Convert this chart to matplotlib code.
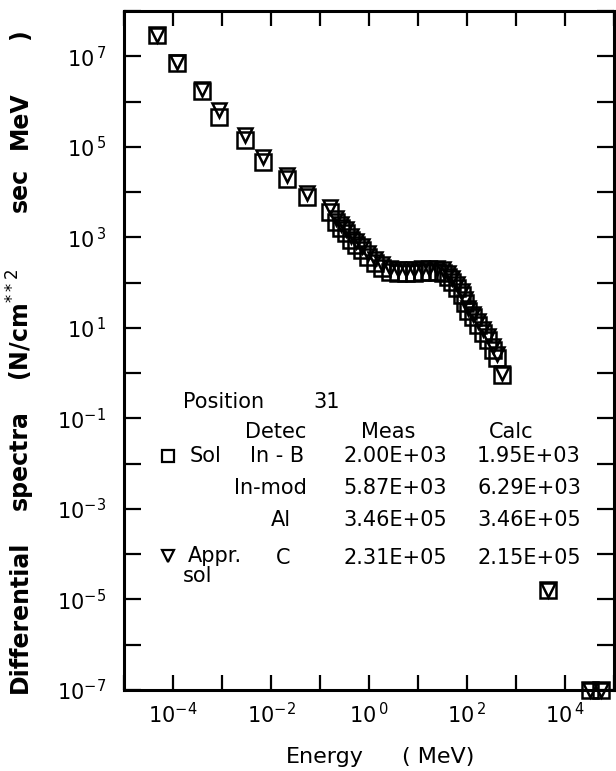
import numpy as np
import matplotlib
matplotlib.use("Agg")
import matplotlib.pyplot as plt

plt.rcParams["font.family"] = ["DejaVu Sans"]
plt.rcParams["mathtext.fontset"] = "dejavusans"

# ── data ─────────────────────────────────────────────────────────────────────
energy = [4.7e-5, 1.2e-4, 3.9e-4, 8.7e-4, 2.9e-3, 6.9e-3, 2.1e-2, 5.4e-2,
          0.16, 0.21, 0.27, 0.34, 0.43, 0.54, 0.72, 0.95, 1.3, 1.85, 2.7,
          3.9, 5.7, 8.3, 12, 17, 24, 32, 41, 49, 63, 80, 91, 105, 132, 166,
          214, 270, 340, 410, 510, 4.5e3, 3.2e4, 5.4e4]
sol = [2.95e7, 7.1e6, 1.7e6, 4.6e5, 1.4e5, 4.7e4, 1.9e4, 7.8e3,
       3.6e3, 2.2e3, 1.6e3, 1.26e3, 880, 680, 520, 370, 270, 210, 170,
       165, 165, 165, 170, 170, 170, 165, 135, 105, 77, 54, 36, 23, 17, 11.7,
       7.8, 5.5, 3.3, 2.2, 0.91, 1.66e-5, 1e-7, 1e-7]
appr = [2.95e7, 7.4e6, 1.9e6, 6.5e5, 1.8e5, 6.0e4, 2.4e4, 9.5e3,
        4.7e3, 2.7e3, 2.0e3, 1.55e3, 1070, 830, 650, 450, 340, 260, 210,
        200, 200, 200, 210, 210, 210, 200, 165, 129, 94, 66, 44, 28, 20, 14.4,
        9.5, 6.7, 4.0, 2.7, 1.0, 1.66e-5, 1e-7, 1e-7]

detectors = ["In - B", "In-mod", "Al", "C"]
meas = ["2.00E+03", "5.87E+03", "3.46E+05", "2.31E+05"]
calc = ["1.95E+03", "6.29E+03", "3.46E+05", "2.15E+05"]

x_exps = np.arange(-5, 6)
y_exps = np.arange(-7, 9)
x_label_exps = [-4, -2, 0, 2, 4]
y_label_exps = [-7, -5, -3, -1, 1, 3, 5, 7]

W, H = 616, 771
fig = plt.figure(figsize=(W / 100, H / 100), dpi=100)
ax = fig.add_axes([124 / W, 1 - 690 / H, 490 / W, 679 / H])

def px(x, y):
    # pixel position -> figure fraction
    return x / W, 1 - y / H

# ── markers ──────────────────────────────────────────────────────────────────
ax.plot(energy, sol, ls="none", marker="s", ms=11, mfc="none", mec="black",
        mew=1.8, clip_on=False, zorder=5)
ax.plot(energy, appr, ls="none", marker="v", ms=9.5, mfc="none", mec="black",
        mew=1.8, clip_on=False, zorder=5)

ax.set_xscale("log")
ax.set_yscale("log")
ax.set_xlim(1e-5, 1e5)
ax.set_ylim(1e-7, 1e8)

def lab(e):
    if e >= 0:
        return r"$\mathregular{10^{\,%d}}$" % e
    return r"$\mathregular{10^{%d}}$" % e

ax.set_xticks([10.0 ** e for e in x_exps])
ax.set_xticklabels([lab(e) if e in x_label_exps else "" for e in x_exps])
ax.set_yticks([10.0 ** e for e in y_exps])
ax.set_yticklabels([lab(e) if e in y_label_exps else "" for e in y_exps])
ax.minorticks_off()
ax.tick_params(axis="x", which="major", direction="in", length=11, width=1.6,
               top=True, labelsize=15, pad=9)
ax.tick_params(axis="y", which="major", direction="in", length=12, width=1.6,
               right=True, labelsize=15, pad=13)
for sp in ax.spines.values():
    sp.set_linewidth(2.2)

# ── axis titles ──────────────────────────────────────────────────────────────
fig.text(*px(325, 757), "Energy", ha="center", va="center", fontsize=16)
fig.text(*px(438, 757), "( MeV)", ha="center", va="center", fontsize=16)

ylab_parts = ["Differential", "spectra", r"(N/cm$^{**2}$", "sec", "MeV", ")"]
ylab_y = [617, 460, 325, 190, 120, 35]
for t, y in zip(ylab_parts, ylab_y):
    fig.text(*px(20, y), t, ha="center", va="center", rotation=90,
             fontsize=17, fontweight="bold")

# ── in-plot legend / table ───────────────────────────────────────────────────
fs = 15
fig.text(*px(183, 402), "Position", ha="left", va="center", fontsize=fs)
fig.text(*px(313, 402), "31", ha="left", va="center", fontsize=fs)
fig.text(*px(276, 432), "Detec", ha="center", va="center", fontsize=fs)
fig.text(*px(388, 432), "Meas", ha="center", va="center", fontsize=fs)
fig.text(*px(511, 432), "Calc", ha="center", va="center", fontsize=fs)

row_y = [456, 488, 520, 558]
det_x = [277, 270, 281, 283]
for det, m, c, y, dx in zip(detectors, meas, calc, row_y, det_x):
    fig.text(*px(dx, y), det, ha="center", va="center", fontsize=fs)
    fig.text(*px(395, y), m, ha="center", va="center", fontsize=fs)
    fig.text(*px(529, y), c, ha="center", va="center", fontsize=fs)

fig.text(*px(190, 456), "Sol", ha="left", va="center", fontsize=fs)
fig.text(*px(188, 556), "Appr.", ha="left", va="center", fontsize=fs)
fig.text(*px(183, 576), "sol", ha="left", va="center", fontsize=fs)

ax.plot([(168 - 124) / 490], [(690 - 456) / 679], marker="s", ms=8,
        mfc="none", mec="black", mew=1.6, transform=ax.transAxes)
ax.plot([(168 - 124) / 490], [(690 - 556) / 679], marker="v", ms=8,
        mfc="none", mec="black", mew=1.6, transform=ax.transAxes)

fig.savefig("out.png", dpi=100)
